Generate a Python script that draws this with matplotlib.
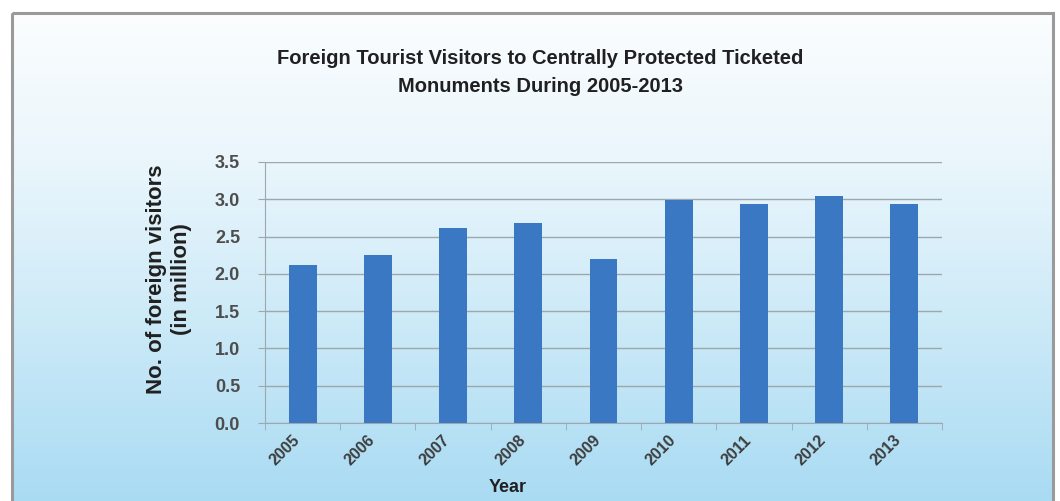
import numpy as np
import matplotlib.pyplot as plt
from matplotlib.colors import LinearSegmentedColormap
from matplotlib.patches import Rectangle

# bezoekers per jaar (miljoen)
years = ['2005', '2006', '2007', '2008', '2009', '2010', '2011', '2012', '2013']
visitors = [2.12, 2.25, 2.61, 2.68, 2.20, 2.99, 2.94, 3.05, 2.94]
yticks = [0.0, 0.5, 1.0, 1.5, 2.0, 2.5, 3.0, 3.5]

title = 'Foreign Tourist Visitors to Centrally Protected Ticketed\nMonuments During 2005-2013'
fnt = ['Liberation Sans', 'DejaVu Sans']

W, H = 1060, 501
fig = plt.figure(figsize=(W / 100, H / 100), dpi=100)
fig.patch.set_facecolor('white')

# achtergrond met verloop van wit naar lichtblauw
bg = fig.add_axes([0, 0, 1, 1], zorder=0)
bg.set_xlim(0, W)
bg.set_ylim(H, 0)
bg.axis('off')
cmap = LinearSegmentedColormap.from_list('bg', [(0, '#fbfdfe'), (0.3, '#eaf6fc'),
                                               (0.6, '#cfebf8'), (1, '#a9dbf3')])
grad = np.linspace(0, 1, 256).reshape(-1, 1)
bg.imshow(grad, cmap=cmap, extent=[12, 1053, H + 2, 13], aspect='auto')
bg.add_patch(Rectangle((12, 13), 1041, H, fill=False, edgecolor='#9a9a9a', lw=2.2))

ax = fig.add_axes([265 / W, 1 - 423 / H, 677 / W, 261 / H], zorder=1)
ax.patch.set_alpha(0)
x = np.arange(len(years))
ax.bar(x, visitors, width=0.37, color='#3b78c3', zorder=3)

ax.set_xlim(-0.5, len(years) - 0.5)
ax.set_ylim(0, 3.5)
ax.set_yticks(yticks)
ax.set_yticklabels([f'{v:.1f}' for v in yticks], fontsize=13, fontweight='bold',
                   color='#4d4d4d', family=fnt)
ax.grid(axis='y', color='#9ea7ad', lw=1, zorder=1)
ax.set_xticks(x)
ax.set_xticklabels(years, rotation=45, ha='right', va='top', fontsize=11.5,
                   fontweight='bold', color='#3d3d3d', family=fnt)
ax.tick_params(axis='x', length=0, pad=7)
ax.set_xticks(np.arange(-0.5, len(years)), minor=True)
ax.tick_params(axis='x', which='minor', length=5, color='#9ea7ad')
ax.tick_params(axis='y', length=5, color='#9ea7ad', pad=13)
for s in ['top', 'right']:
    ax.spines[s].set_visible(False)
ax.spines['left'].set_color('#9ea7ad')
ax.spines['bottom'].set_color('#9ea7ad')

fig.text(540 / W, 1 - 73 / H, title, ha='center', va='center', fontsize=14.5,
         fontweight='bold', color='#202020', family=fnt, linespacing=1.6)
fig.text(169 / W, 1 - 279 / H, 'No. of foreign visitors\n(in million)', rotation=90,
         ha='center', va='center', multialignment='center', fontsize=16,
         fontweight='bold', color='#202020', family=fnt, linespacing=1.25)
fig.text(508 / W, 1 - 488 / H, 'Year', ha='center', va='center', fontsize=13,
         fontweight='bold', color='#202020', family=fnt)

plt.savefig('out.png', dpi=100)
